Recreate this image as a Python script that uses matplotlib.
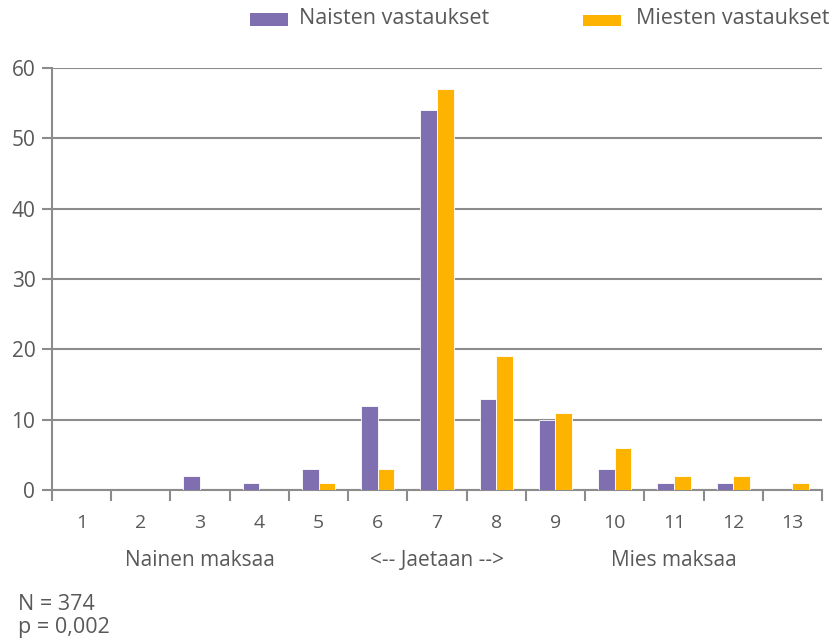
import matplotlib
matplotlib.use("Agg")
import matplotlib.pyplot as plt
from matplotlib.patches import Rectangle
import numpy as np

categories = ["1", "2", "3", "4", "5", "6", "7", "8", "9", "10", "11", "12", "13"]
naiset = [0, 0, 2, 1, 3, 12, 54, 13, 10, 3, 1, 1, 0]
miehet = [0, 0, 0, 0, 1, 3, 57, 19, 11, 6, 2, 2, 1]
series_names = ["Naisten vastaukset", "Miesten vastaukset"]
group_labels = [("Nainen maksaa", 2), ("<-- Jaetaan -->", 6), ("Mies maksaa", 10)]
yticks = [0, 10, 20, 30, 40, 50, 60]
footer = ["N = 374", "p = 0,002"]

purple = "#7F6FB0"
orange = "#FDB300"
grid_c = "#8C8C8C"
text_c = "#595959"

plt.rcParams['font.family'] = ['Open Sans', 'DejaVu Sans']

W, H = 835, 641
fig = plt.figure(figsize=(W / 100, H / 100), dpi=100)
ax = fig.add_axes([52 / W, 1 - 490 / H, (822 - 52) / W, (490 - 68) / H])

x = np.arange(len(categories))
bw = 0.28
ax.bar(x - bw / 2, naiset, bw, color=purple, edgecolor="white", linewidth=0.6, zorder=3)
ax.bar(x + bw / 2, miehet, bw, color=orange, edgecolor="white", linewidth=0.6, zorder=3)

ax.set_xlim(-0.5, len(categories) - 0.5)
ax.set_ylim(0, 60)
ax.set_yticks(yticks)
ax.yaxis.grid(True, color=grid_c, linewidth=1.5, zorder=0)
for s in ["top", "right"]:
    ax.spines[s].set_visible(False)
for s in ["left", "bottom"]:
    ax.spines[s].set_color(grid_c)
    ax.spines[s].set_linewidth(1.5)

ax.set_xticks(x)
ax.set_xticklabels(categories)
ax.tick_params(axis="x", length=0, pad=17, labelsize=14, labelcolor=text_c)
ax.set_xticks(np.arange(-0.5, len(categories), 1), minor=True)
ax.tick_params(axis="x", which="minor", length=8, width=1.5, color=grid_c, direction="out")
ax.tick_params(axis="y", length=7, width=1.5, color=grid_c, direction="out", pad=5,
               labelsize=15, labelcolor=text_c)

for lbl, pos in group_labels:
    ax.text(pos, -10.0, lbl, ha="center", va="center", fontsize=15, color=text_c,
            transform=ax.transData, clip_on=False)

# legend
for name, col, px, py0, py1, tx in [(series_names[0], purple, 250, 13, 26, 299),
                                     (series_names[1], orange, 583, 15, 26, 636)]:
    fig.patches.append(Rectangle((px / W, 1 - py1 / H), 38 / W, (py1 - py0) / H,
                                 transform=fig.transFigure, facecolor=col, edgecolor="none"))
    fig.text(tx / W, 1 - 18 / H, name, ha="left", va="center", fontsize=15.5, color=text_c)

fig.text(18 / W, 1 - 605 / H, footer[0], ha="left", va="center", fontsize=15.5, color=text_c)
fig.text(18 / W, 1 - 628 / H, footer[1], ha="left", va="center", fontsize=15.5, color=text_c)

fig.savefig("out.png", dpi=100)
